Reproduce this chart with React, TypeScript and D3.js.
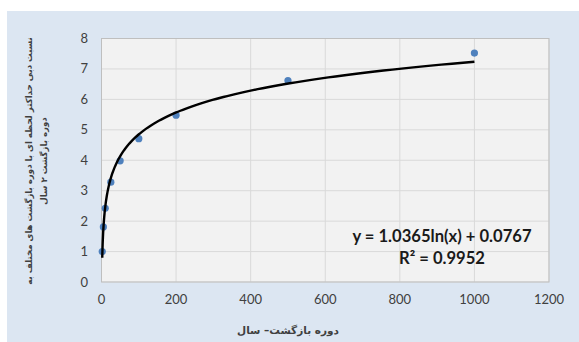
import * as d3 from 'd3';

const returnPeriods = [2, 5, 10, 25, 50, 100, 200, 500, 1000];
const ratios = [1.0, 1.81, 2.42, 3.28, 3.98, 4.71, 5.48, 6.62, 7.52];
const xTicks = [0, 200, 400, 600, 800, 1000, 1200];
const yTicks = [0, 1, 2, 3, 4, 5, 6, 7, 8];
const trendA = 1.0365;
const trendB = 0.0767;
const equationLabel = 'y = 1.0365ln(x) + 0.0767';

const W = 579;
const H = 342;
const plot = { left: 101.5, top: 38.5, right: 549, bottom: 282 };
const FONT = 'Lato, "Open Sans", sans-serif';
const AR_FONT = '"DejaVu Sans", sans-serif';

export default function App() {
  const x = d3.scaleLinear().domain([0, 1200]).range([plot.left, plot.right]);
  const y = d3.scaleLinear().domain([0, 8]).range([plot.bottom, plot.top]);

  // trendline samples, log-spaced so the steep start is smooth
  const trendX = d3.range(0, 201).map(i => 2 * Math.pow(500, i / 200));
  const line = d3.line<number>()
    .x(d => x(d))
    .y(d => y(trendA * Math.log(d) + trendB));

  return (
    <svg width={W} height={H} style={{ position: 'absolute', left: 0, top: 0 }}>
      <rect x={0} y={0} width={W} height={H} fill="#fff" />
      <rect x={7} y={11} width={W - 7} height={H - 11} fill="#DCE6F2" />
      <rect x={plot.left} y={plot.top} width={plot.right - plot.left} height={plot.bottom - plot.top} fill="#F2F2F2" />

      {yTicks.map(t => (
        <line key={'gy' + t} x1={plot.left} x2={plot.right} y1={y(t)} y2={y(t)} stroke="#D9D9D9" strokeWidth={1} />
      ))}
      {xTicks.map(t => (
        <line key={'gx' + t} x1={x(t)} x2={x(t)} y1={plot.top} y2={plot.bottom} stroke="#D9D9D9" strokeWidth={1} />
      ))}
      <rect x={plot.left} y={plot.top} width={plot.right - plot.left} height={plot.bottom - plot.top}
        fill="none" stroke="#BFBFBF" strokeWidth={1} />

      {yTicks.map(t => (
        <text key={'ly' + t} x={88} y={y(t)} dy="0.35em" textAnchor="end" fontFamily={FONT} fontSize={13} fill="#404040">{t}</text>
      ))}
      {xTicks.map(t => (
        <text key={'lx' + t} x={x(t)} y={304} textAnchor="middle" fontFamily={FONT} fontSize={13} fill="#404040">{t}</text>
      ))}

      {returnPeriods.map((p, i) => (
        <circle key={'p' + p} cx={x(p)} cy={y(ratios[i])} r={3.6} fill="#4F81BD" />
      ))}
      <path d={line(trendX) || ''} fill="none" stroke="#000" strokeWidth={2.4} />

      <text x={442} y={242} textAnchor="middle" fontFamily={FONT} fontWeight={700} fontSize={16.6} fill="#1a1a1a">{equationLabel}</text>
      <text x={442} y={264} textAnchor="middle" fontFamily={FONT} fontWeight={700} fontSize={16.6} fill="#1a1a1a">R² = 0.9952</text>

      <g transform="translate(32,161) rotate(-90)">
        <text x={0} y={0} textAnchor="middle" direction="rtl" fontFamily={AR_FONT} fontSize={8.6} fontWeight={700} fill="#404040">
          نسبت دبی حداکثر لحظه ای با دوره بازگشت های مختلف به
        </text>
        <text x={0} y={15} textAnchor="middle" direction="rtl" fontFamily={AR_FONT} fontSize={8.6} fontWeight={700} fill="#404040">
          دوره بازگشت ۲ سال
        </text>
      </g>
      <text x={288} y={334} textAnchor="middle" direction="rtl" fontFamily={AR_FONT} fontSize={10.5} fontWeight={700} fill="#404040">
        دوره بازگشت– سال
      </text>
    </svg>
  );
}
